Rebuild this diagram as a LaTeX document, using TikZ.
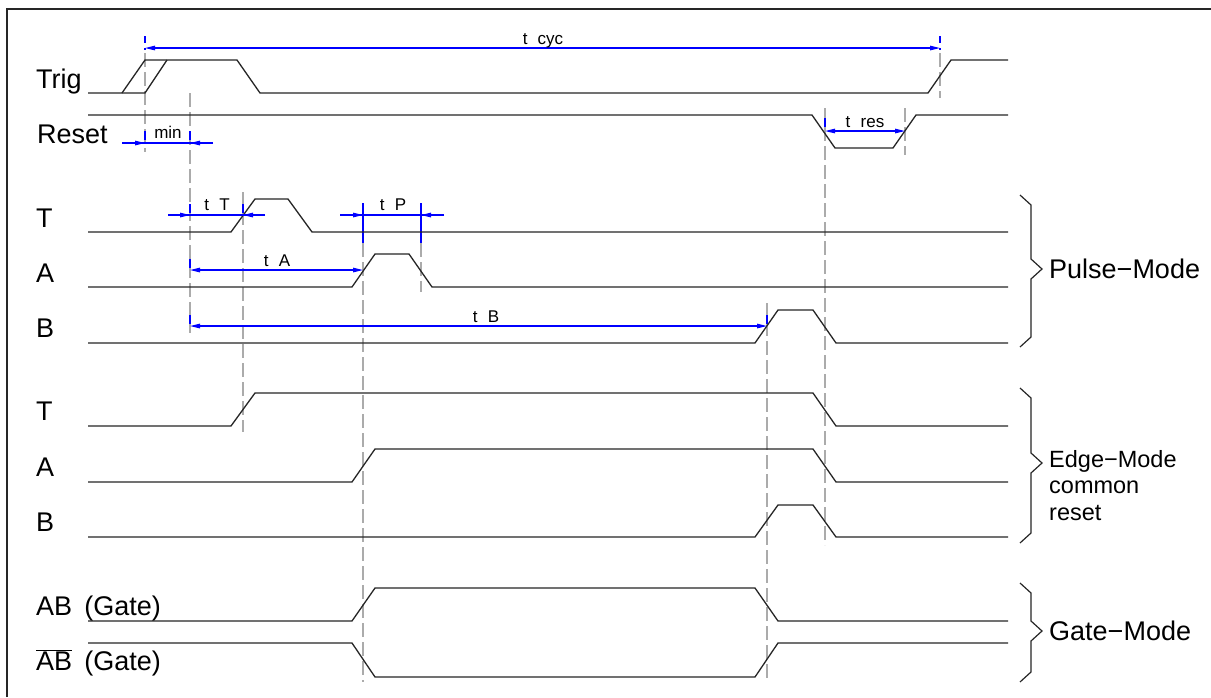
\documentclass[tikz,border=0pt]{standalone}
\usepackage{fontspec}
\setmainfont{Liberation Sans}
\usetikzlibrary{arrows.meta}
\begin{document}
\begin{tikzpicture}[x=1pt,y=-1pt,
  sig/.style={line width=1.3pt, black!85, line join=miter},
  guide/.style={line width=1.2pt, black!33, dash pattern=on 14pt off 5pt},
  ext/.style={line width=1.2pt, blue},
  extd/.style={line width=1.2pt, blue, dash pattern=on 7pt off 5pt},
  dimline/.style={line width=1.2pt, blue},
  dim/.style={line width=1.2pt, blue, -{Triangle[length=10pt,width=4.5pt]}},
  dimb/.style={line width=1.2pt, blue, {Triangle[length=10pt,width=4.5pt]}-{Triangle[length=10pt,width=4.5pt]}},
  bigl/.style={font=\fontsize{27}{27}\selectfont, inner sep=0pt, anchor=base west},
  smalll/.style={font=\fontsize{17}{17}\selectfont, inner sep=0pt, anchor=base},
  bracel/.style={line width=1.2pt, black!85, line join=miter}]
\useasboundingbox (0,0) rectangle (1211,697);
\fill[white] (0,0) rectangle (1211,697);
% frame
\draw[line width=1.5pt, black!85] (7,697) -- (7,9) -- (1211,9);

% guide lines
\draw[extd] (145,36) -- (145,50);
\draw[guide] (145,53) -- (145,152);
\draw[extd] (940,36) -- (940,50);
\draw[guide] (940,53) -- (940,98);
\draw[guide] (190,93) -- (190,333);
\draw[guide] (243,192) -- (243,432);
\draw[ext] (363,203) -- (363,243);
\draw[guide] (363,243) -- (363,682);
\draw[ext] (421,203) -- (421,243);
\draw[guide] (421,243) -- (421,292);
\draw[guide] (767,303) -- (767,682);
\draw[guide] (825,108) -- (825,545);
\draw[guide] (905,108) -- (905,155);
% short blue extension pieces
\foreach \x/\y in {145/131, 190/131, 190/204, 243/204, 190/259, 190/315, 767/315, 825/118}
  \draw[ext] (\x,\y) -- (\x,\y+9);

% signals
\draw[sig] (88,93) -- (145,93) -- (167,60);
\draw[sig] (122,93) -- (145,60) -- (237,60) -- (260,93) -- (928,93) -- (951,60) -- (1008,60);
\draw[sig] (88,115) -- (812,115) -- (835,148) -- (893,148) -- (916,115) -- (1008,115);
% pulse mode
\draw[sig] (88,232) -- (231,232) -- (255,199) -- (288,199) -- (312,232) -- (1008,232);
\draw[sig] (88,287) -- (352,287) -- (375,254) -- (409,254) -- (432,287) -- (1008,287);
\draw[sig] (88,343) -- (755,343) -- (778,310) -- (813,310) -- (836,343) -- (1008,343);
% edge mode
\draw[sig] (88,426) -- (231,426) -- (255,393) -- (813,393) -- (836,426) -- (1008,426);
\draw[sig] (88,482) -- (352,482) -- (375,449) -- (813,449) -- (836,482) -- (1008,482);
\draw[sig] (88,537) -- (755,537) -- (778,505) -- (813,505) -- (836,537) -- (1008,537);
% gate mode
\draw[sig] (88,621) -- (352,621) -- (375,588) -- (755,588) -- (778,621) -- (1008,621);
\draw[sig] (88,643) -- (352,643) -- (375,677) -- (755,677) -- (778,643) -- (1008,643);

% dimensions
\draw[dimb] (145,48) -- (940,48);
\node[smalll] (tcyc) at (543,44) {t\hspace{0.6em}cyc};
\draw[dimline] (122,143) -- (213,143);
\draw[dim] (122,143) -- (145,143);
\draw[dim] (213,143) -- (190,143);
\node[smalll] (min) at (168,138) {min};
\draw[dimline] (168,215) -- (265,215);
\draw[dim] (168,215) -- (190,215);
\draw[dim] (265,215) -- (243,215);
\node[smalll] (tT) at (217,210) {t\hspace{0.6em}T};
\draw[dimline] (340,215) -- (444,215);
\draw[dim] (340,215) -- (363,215);
\draw[dim] (444,215) -- (421,215);
\node[smalll] (tP) at (393,210) {t\hspace{0.6em}P};
\draw[dimb] (190,270) -- (363,270);
\node[smalll] (tA) at (277,266) {t\hspace{0.6em}A};
\draw[dimb] (190,326) -- (767,326);
\node[smalll] (tB) at (486,322) {t\hspace{0.6em}B};
\draw[dimb] (825,131) -- (905,131);
\node[smalll] (tres) at (865,127) {t\hspace{0.6em}res};

% left labels
\node[bigl] (lTrig) at (36,88) {Trig};
\node[bigl] (lReset) at (37,143) {Reset};
\node[bigl] (lT1) at (36,227) {T};
\node[bigl] (lA1) at (36,282) {A};
\node[bigl] (lB1) at (36,337) {B};
\node[bigl] (lT2) at (36,420) {T};
\node[bigl] (lA2) at (36,476) {A};
\node[bigl] (lB2) at (36,531) {B};
\node[bigl] (lAB) at (36,615) {AB\hspace{0.45em}(Gate)};
\node[bigl] (lABn) at (36,670) {$\overline{\hbox{AB}}$\hspace{0.45em}(Gate)};

% braces
\draw[bracel] (1020,195) -- (1031,205) -- (1031,259) -- (1042,269) -- (1031,279) -- (1031,337) -- (1020,347);
\draw[bracel] (1020,388) -- (1031,398) -- (1031,453) -- (1042,463) -- (1031,473) -- (1031,533) -- (1020,543);
\draw[bracel] (1020,583) -- (1031,593) -- (1031,621) -- (1042,631) -- (1031,641) -- (1031,672) -- (1020,682);
\node[bigl] (pulse) at (1049,278) {Pulse−Mode};
\node[font=\fontsize{23.5}{26.5}\selectfont, inner sep=0pt, anchor=north west, align=left] (edge) at (1049,450) {Edge−Mode\\common\\reset};
\node[bigl] (gate) at (1049,640) {Gate−Mode};
\end{tikzpicture}
\end{document}
